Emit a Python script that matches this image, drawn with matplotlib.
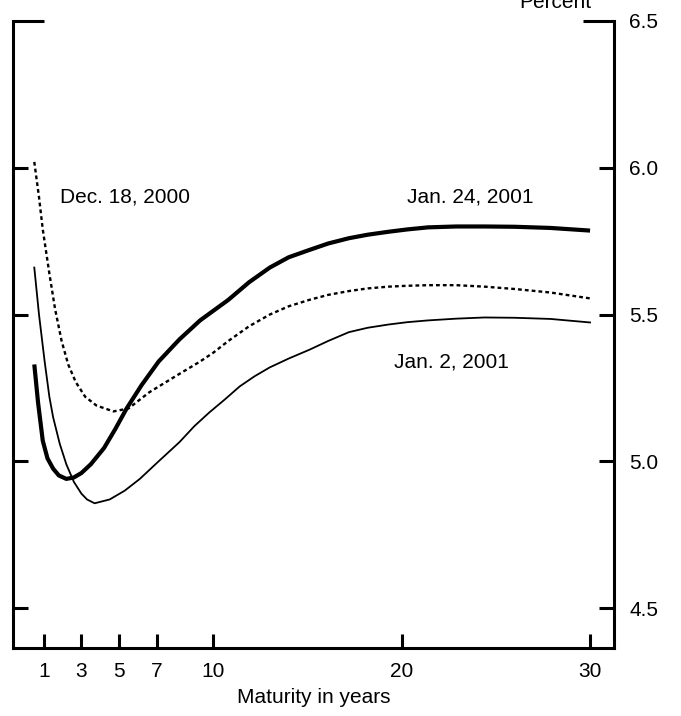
import matplotlib.pyplot as plt

plt.rcParams['font.family'] = ['Liberation Sans', 'DejaVu Sans']

# maturity (years) and yields (percent)
dec18_x = [0.5, 0.75, 0.95, 1.3, 1.6, 1.95, 2.3, 2.7, 3.2, 3.8, 4.7, 5.5, 6.6, 8.0, 9.3,
           10.0, 10.8, 11.9, 13.0, 14.0, 15.1, 16.1, 17.2, 18.2, 19.3, 20.3, 21.4, 22.9,
           24.4, 26.0, 27.9, 30.0]
dec18_y = [6.02, 5.90, 5.79, 5.64, 5.52, 5.41, 5.33, 5.27, 5.22, 5.19, 5.17, 5.18, 5.235,
           5.29, 5.34, 5.37, 5.41, 5.46, 5.50, 5.528, 5.55, 5.567, 5.58, 5.589, 5.595,
           5.598, 5.60, 5.60, 5.595, 5.587, 5.575, 5.555]

jan24_x = [0.5, 0.7, 0.95, 1.2, 1.5, 1.8, 2.2, 2.6, 3.0, 3.5, 4.2, 4.8, 5.4, 6.2, 7.1,
           8.2, 9.3, 10.8, 11.9, 13.0, 14.0, 15.1, 16.1, 17.2, 18.2, 19.3, 20.3, 21.4,
           22.9, 24.4, 26.0, 27.9, 30.0]
jan24_y = [5.33, 5.20, 5.07, 5.01, 4.975, 4.952, 4.94, 4.945, 4.96, 4.99, 5.045, 5.11,
           5.18, 5.26, 5.34, 5.415, 5.48, 5.55, 5.61, 5.66, 5.695, 5.72, 5.742, 5.76,
           5.772, 5.782, 5.79, 5.797, 5.80, 5.80, 5.799, 5.795, 5.786]

jan2_x = [0.5, 0.75, 1.05, 1.3, 1.5, 1.85, 2.2, 2.6, 3.0, 3.3, 3.7, 4.5, 5.3, 6.1, 7.1,
          8.2, 9.0, 9.8, 10.6, 11.4, 12.2, 13.0, 14.0, 15.1, 16.1, 17.2, 18.2, 19.3,
          20.3, 21.4, 22.9, 24.4, 26.0, 27.9, 30.0]
jan2_y = [5.66, 5.50, 5.34, 5.22, 5.15, 5.06, 4.99, 4.93, 4.89, 4.87, 4.857, 4.87, 4.90,
          4.94, 5.0, 5.065, 5.12, 5.167, 5.21, 5.255, 5.29, 5.32, 5.35, 5.38, 5.41, 5.44,
          5.455, 5.466, 5.474, 5.48, 5.486, 5.49, 5.489, 5.485, 5.473]

x_ticks = [1, 3, 5, 7, 10, 20, 30]
y_ticks = [4.5, 5.0, 5.5, 6.0]

fs = 15

fig = plt.figure(figsize=(6.81, 7.16), dpi=100)
ax = fig.add_axes([13 / 681, 68 / 716, 601 / 681, 627 / 716])

ax.plot(dec18_x, dec18_y, color='black', lw=1.7, dashes=(1.6, 1.3))
ax.plot(jan24_x, jan24_y, color='black', lw=3.0, solid_capstyle='butt')
ax.plot(jan2_x, jan2_y, color='black', lw=1.3)

ax.set_xlim(-0.63, 31.27)
ax.set_ylim(4.364, 6.5)

ax.spines['top'].set_visible(False)
for s in ['left', 'right', 'bottom']:
    ax.spines[s].set_linewidth(2.2)

ax.set_xticks(x_ticks)
ax.set_xticklabels([str(v) for v in x_ticks])
ax.set_yticks(y_ticks)
ax.set_yticklabels(['%.1f' % v for v in y_ticks])
ax.set_yticks([6.5], minor=True)
ax.set_yticklabels(['6.5'], minor=True)

ax.tick_params(axis='x', direction='in', length=10, width=2.2, pad=10, labelsize=fs)
ax.tick_params(axis='y', which='major', direction='in', length=11, width=2.2, left=True,
               right=True, labelleft=False, labelright=True, pad=11, labelsize=fs)
ax.tick_params(axis='y', which='minor', direction='in', length=22, width=2.2, left=True,
               right=True, labelleft=False, labelright=True, pad=11, labelsize=fs)
ax.tick_params(axis='x', which='minor', bottom=False)

ax.set_xlabel('Maturity in years', fontsize=fs, labelpad=5)

ax.text(1.85, 5.90, 'Dec. 18, 2000', fontsize=fs, va='center', ha='left')
ax.text(20.26, 5.90, 'Jan. 24, 2001', fontsize=fs, va='center', ha='left')
ax.text(19.57, 5.34, 'Jan. 2, 2001', fontsize=fs, va='center', ha='left')

fig.text(555 / 681, 1 - 2 / 716, 'Percent', fontsize=fs, ha='center', va='center')

fig.savefig('out.png', dpi=100)
